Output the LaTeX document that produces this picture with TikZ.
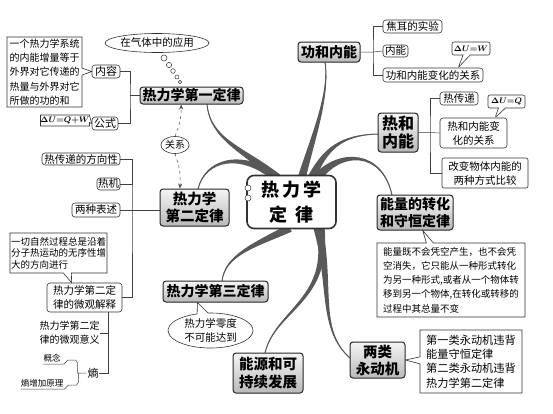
\documentclass[tikz,border=0pt]{standalone}
\usepackage{fontspec}
\usepackage{bm}
\newfontfamily\cjk{Noto Sans CJK SC}
\usetikzlibrary{calc,shapes.callouts,shapes.geometric,arrows.meta}
\newcommand\taper[5]{%
 \fill[branch] ($(#1)!#5!90:(#2)$) .. controls ($(#2)!#5*0.6!90:(#3)$) and ($(#3)!#5*0.25!90:(#4)$) .. (#4)
   .. controls ($(#3)!#5*0.25!-90:(#4)$) and ($(#2)!#5*0.6!-90:(#3)$) .. ($(#1)!#5!-90:(#2)$) -- cycle;
 \draw[branch line] (#1) .. controls (#2) and (#3) .. (#4);}
\tikzset{
 mainbox/.style={draw=black!85, line width=1pt, rounded corners=3pt, top color=gray!8, bottom color=gray!55,
   font=\cjk\bfseries\fontsize{14}{16.5}\selectfont, inner sep=0pt, align=center},
 centerbox/.style={draw=black!80, line width=1.6pt, rounded corners=7pt, fill=white,
   font=\cjk\bfseries\fontsize{18}{25}\selectfont, inner sep=0pt, align=center,
   minimum width=89pt, minimum height=53pt},
 subbox/.style={draw=black!80, line width=0.6pt, rounded corners=3pt, fill=white,
   font=\cjk\fontsize{10.5}{14}\selectfont, inner sep=0pt, align=center},
 note/.style={rectangle callout, draw=black!80, line width=0.6pt, fill=white,
   font=\cjk\fontsize{10.5}{14.2}\selectfont, inner sep=0pt, align=left, callout pointer width=7pt},
 formula/.style={note, rounded corners=2pt, font=\fontsize{8.5}{10}\selectfont, align=center},
 plaintext/.style={font=\cjk\fontsize{10}{14}\selectfont, inner sep=0pt, align=left},
 tinytext/.style={font=\cjk\fontsize{8.5}{10}\selectfont, inner sep=0pt},
 bubble/.style={ellipse, draw=black!80, line width=0.6pt, fill=white, inner sep=0pt,
   font=\cjk\fontsize{10.5}{14}\selectfont, align=center},
 dot/.style={circle, draw=black!80, line width=0.5pt, fill=white, inner sep=0pt},
 branch/.style={fill=black!65},
 branch line/.style={draw=black!65, line width=1pt},
 tree/.style={draw=black!75, line width=0.5pt},
 rel/.style={draw=black!70, dashed, line width=0.5pt, -{Stealth[length=5pt,width=4pt]}},
}
\begin{document}
\begin{tikzpicture}[x=1pt,y=-1pt]
\useasboundingbox[fill=white] (0,0) rectangle (553,413);

% ---------- branches ----------
\taper{277,178}{245,150}{210,140}{207,104}{4.5pt}
\taper{277,178}{240,150}{205,160}{198,189}{4.5pt}
\taper{302,177}{312,140}{330,95}{325,62}{4pt}
\taper{312,177}{325,150}{340,135}{378,134}{4pt}
\taper{318,177}{340,150}{382,150}{392,195}{4.5pt}
\taper{290,228}{255,245}{225,255}{222,281}{4pt}
\taper{318,228}{332,285}{318,330}{350,358}{4.5pt}
\taper{320,228}{332,300}{275,310}{265,353}{4.5pt}

% ---------- central node ----------
\node[centerbox] (c) at (291.5,202) {热\hspace{3pt}力\hspace{3pt}学\\定\hspace{9pt}律};
\node[dot, minimum size=6pt] (cd1) at (248,188) {};
\node[dot, minimum size=6pt] (cd2) at (248,198) {};

% ---------- main nodes ----------
\node[mainbox, minimum width=103pt, minimum height=17pt] (first) at (191.5,95.5) {热力学第一定律};
\node[mainbox, minimum width=62pt, minimum height=20pt] (gonghe) at (329,52) {功和内能};
\node[mainbox, minimum width=40pt, minimum height=39pt, font=\cjk\bfseries\fontsize{16}{18}\selectfont] (rehe) at (398,132.5) {热和\\内能};
\node[mainbox, minimum width=76pt, minimum height=35pt] (nengliang) at (415,212.5) {能量的转化\\和守恒定律};
\node[mainbox, minimum width=69pt, minimum height=37pt, font=\cjk\bfseries\fontsize{14.5}{17}\selectfont] (second) at (194.5,207.5) {热力学\\第二定律};
\node[mainbox, minimum width=105pt, minimum height=21pt] (third) at (215.5,291.5) {热力学第三定律};
\node[mainbox, minimum width=70pt, minimum height=40pt, font=\cjk\bfseries\fontsize{14.5}{18}\selectfont] (nengyuan) at (268,373) {能源和可\\持续发展};
\node[mainbox, minimum width=55pt, minimum height=36pt, font=\cjk\bfseries\fontsize{14.5}{17}\selectfont] (liangl) at (377.5,360) {两类\\永动机};

% ---------- first law ----------
\node[subbox, minimum width=28pt, minimum height=13pt, font=\cjk\fontsize{11}{13}\selectfont] (neirong) at (106,71.5) {内容};
\node[subbox, minimum width=26pt, minimum height=13pt, font=\cjk\fontsize{11}{13}\selectfont] (gongshi) at (105,123.5) {公式};
\coordinate (fb) at (130,95.5);
\draw[tree] (neirong.east) -| (fb) |- (gongshi.east);
\draw[tree] (fb) -- (first.west);
\node[note, minimum width=75pt, minimum height=70pt, font=\cjk\fontsize{10}{14.2}\selectfont, callout absolute pointer={(neirong.west)}] (c1) at (44.5,72)
 {一个热力学系统\\的内能增量等于\\外界对它传递的\\热量与外界对它\\所做的功的和};
\node[formula, minimum width=40pt, minimum height=11pt, rounded corners=0pt, callout absolute pointer={(gongshi.west)}] (fq) at (65,120.5) {$\bm{\Delta U{=}Q{+}W}$};
\node[bubble, minimum width=80pt, minimum height=19pt] (gas) at (157,43) {在气体中的应用};
\node[dot, minimum size=6pt] (g1) at (164,58) {};
\node[dot, minimum size=5.2pt] (g2) at (169,65) {};
\node[dot, minimum size=4.6pt] (g3) at (173,71) {};
\node[dot, minimum size=4pt] (g4) at (177,77) {};
\node[dot, minimum size=3.4pt] (g5) at (180,82) {};
\node[bubble, minimum width=28pt, minimum height=17pt, font=\cjk\fontsize{10}{12}\selectfont] (guanxi) at (175,145) {关系};
\draw[rel] (guanxi.north) to[bend right=12] ($(first.south west)!0.4!(first.south east)$);
\draw[rel] (guanxi.south) to[bend left=12] ($(second.north west)!0.29!(second.north east)$);

% ---------- work and internal energy ----------
\node[subbox, minimum width=59pt, minimum height=13pt] (jiaoer) at (412.5,26.5) {焦耳的实验};
\node[subbox, minimum width=25pt, minimum height=12pt] (neineng) at (395.5,51) {内能};
\node[subbox, minimum width=100pt, minimum height=14pt] (wgx) at (433,75) {功和内能变化的关系};
\coordinate (gb) at (373,52);
\draw[tree] (jiaoer.west) -| (gb) |- (wgx.west);
\draw[tree] (gonghe.east) -- (gb) -- (neineng.west);
\node[formula, minimum width=38pt, minimum height=13pt, callout absolute pointer={($(wgx.north west)!0.75!(wgx.north east)$)}] (fw) at (471,48.5) {$\bm{\Delta U{=}W}$};

% ---------- heat and internal energy ----------
\node[subbox, minimum width=38pt, minimum height=13pt] (rcd) at (459,98.5) {热传递};
\node[subbox, minimum width=67pt, minimum height=30pt] (rgx) at (473.5,133) {热和内能变\\化的关系};
\node[subbox, minimum width=86pt, minimum height=30pt, rounded corners=2pt] (gaibian) at (485,173) {改变物体内能的\\两种方式比较};
\coordinate (hb) at (430,132.5);
\draw[tree] (rcd.west) -| (hb) |- (gaibian.west);
\draw[tree] (rehe.east) -- (hb) -- (rgx.west);
\node[formula, minimum width=37pt, minimum height=13pt, callout absolute pointer={($(rgx.north west)!0.82!(rgx.north east)$)}] (fqq) at (506.5,101.5) {$\bm{\Delta U{=}Q}$};

% ---------- energy conservation ----------
\node[note, minimum width=148pt, minimum height=74pt, font=\cjk\fontsize{9.5}{14.3}\selectfont, callout absolute pointer={($(nengliang.south west)!0.6!(nengliang.south east)$)}] (cons) at (451,280)
 {能量既不会凭空产生，也不会凭\\空消失，它只能从一种形式转化\\为另一种形式,或者从一个物体转\\移到另一个物体,在转化或转移的\\过程中其总量不变};

% ---------- perpetual motion ----------
\node[note, minimum width=102pt, minimum height=63pt, font=\cjk\fontsize{11.2}{14.3}\selectfont, callout absolute pointer={(liangl.east)}] (pm) at (471,361.5)
 {第一类永动机违背\\能量守恒定律\\第二类永动机违背\\热力学第二定律};

% ---------- third law ----------
\node[ellipse callout, draw=black!80, line width=0.6pt, fill=white, inner sep=0pt, minimum width=85pt, minimum height=35pt,
  font=\cjk\fontsize{10.5}{14}\selectfont, align=center, callout pointer width=8pt,
  callout absolute pointer={($(third.south west)!0.33!(third.south east)$)}] (zero) at (210.5,330.5) {热力学零度\\不可能达到};

% ---------- second law ----------
\node[subbox, minimum width=78pt, minimum height=12pt] (fx) at (81,159) {热传递的方向性};
\node[subbox, minimum width=23pt, minimum height=12pt] (rj) at (108.5,184) {热机};
\node[subbox, minimum width=48pt, minimum height=14pt] (lz) at (96,210) {两种表述};
\node[subbox, minimum width=75pt, minimum height=29pt] (wg) at (84.5,297.5) {热力学第二定\\律的微观解释};
\coordinate (sb) at (132,210);
\draw[tree] (fx.east) -| (sb) |- (wg.east);
\draw[tree] (rj.east) -- (rj.east -| sb);
\draw[tree] (lz.east) -- (lz.east -| second.west);
\node[note, minimum width=97pt, minimum height=40pt, font=\cjk\fontsize{9.5}{11.6}\selectfont, callout pointer width=8pt,
  callout absolute pointer={($(wg.north west)!0.33!(wg.north east)$)}] (c2) at (58.5,253)
 {一切自然过程总是沿着\\分子热运动的无序性增\\大的方向进行};
\node[plaintext] (yy) at (69.5,333) {热力学第二定\\律的微观意义};
\node[font=\cjk\fontsize{11}{13}\selectfont, inner sep=0pt] (shang) at (93,373) {熵};
\coordinate (wb) at (108,373);
\draw[tree] (wg.south -| wb) -- (wb) -- (shang.east);
\draw[tree] (yy.east) -- (yy.east -| wb);
\node[tinytext] (gn) at (52,358) {概念};
\node[tinytext] (zj) at (42,383) {熵增加原理};
\coordinate (brc) at (79,373);
\draw[tree] ([yshift=-2pt]gn.south west) -- ([xshift=3pt,yshift=-2pt]gn.south east) -- ++(4,-4) -- ++(8,0) -- ++(2,3) |- (brc) -- ([xshift=-1pt]shang.west);
\draw[tree] ([yshift=-2pt]zj.south west) -- ([xshift=1pt,yshift=-2pt]zj.south east) -- ++(4,-4) -- ++(8,0) -- ++(2,-3) |- (brc);
\end{tikzpicture}
\end{document}
